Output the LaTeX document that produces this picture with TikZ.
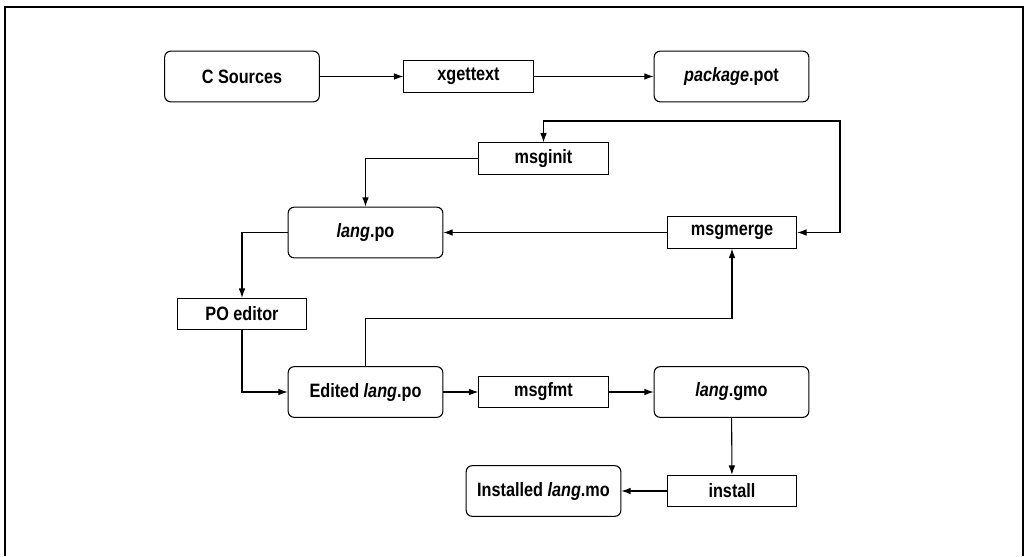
\documentclass[tikz,border=0pt]{standalone}
\usepackage{fontspec}
\setmainfont{Liberation Sans}[FakeStretch=0.84]
\usetikzlibrary{arrows.meta}

\begin{document}
\begin{tikzpicture}[x=0.75pt, y=-0.75pt, line width=0.8pt,
	>={Latex[length=7pt,width=5pt]},
	every node/.style={font=\fontsize{14.5}{16}\selectfont\bfseries, inner sep=0pt},
	filebox/.style={draw, rounded corners=4.5pt, minimum width=116pt, minimum height=38pt},
	toolbox/.style={draw, minimum width=97pt, minimum height=23.5pt}]
	\useasboundingbox (0,0) rectangle (1030,556);
	\draw[line width=1.2pt] (5,556) -- (5,7) -- (1023,7) -- (1023,556);
	\node[filebox](CS) at (242,76.5){C Sources};
	\node[toolbox](XG) at (468.5,76.5){xgettext};
	\node[filebox](PP) at (731.5,76.5){\textit{package}.pot};
	\node[toolbox](MI) at (543.5,158.5){msginit};
	\node[filebox](LP) at (365.5,232.5){\textit{lang}.po};
	\node[toolbox](MM) at (732,232.5){msgmerge};
	\node[toolbox](PE) at (242,314){PO editor};
	\node[filebox](EL) at (365.5,392){Edited \textit{lang}.po};
	\node[toolbox](MF) at (543.5,392){msgfmt};
	\node[filebox](LG) at (731.5,392){\textit{lang}.gmo};
	\node[toolbox](IN) at (732,491){install};
	\node[filebox](IM) at (543.5,491){Installed \textit{lang}.mo};
	\coordinate(R) at (840,121);
	\draw [->] (CS) -- (XG);
	\draw [->] (XG) -- (PP);
	\draw [<->] (MI.north) |- (R) |- (MM.east);
	\draw [->] (MI.west) -| (LP.north);
	\draw [->] (MM) -- (LP);
	\draw [->] (LP.west) -| (PE.north);
	\draw [->] (PE.south) |- (EL.west);
	\draw [->] (EL.north) -- ++(0,-48) -| (MM.south);
	\draw [->] (EL) -- (MF);
	\draw [->] (MF) -- (LG);
	\draw [->] (LG) -- (IN);
	\draw [->] (IN) -- (IM);
\end{tikzpicture}
\end{document}
